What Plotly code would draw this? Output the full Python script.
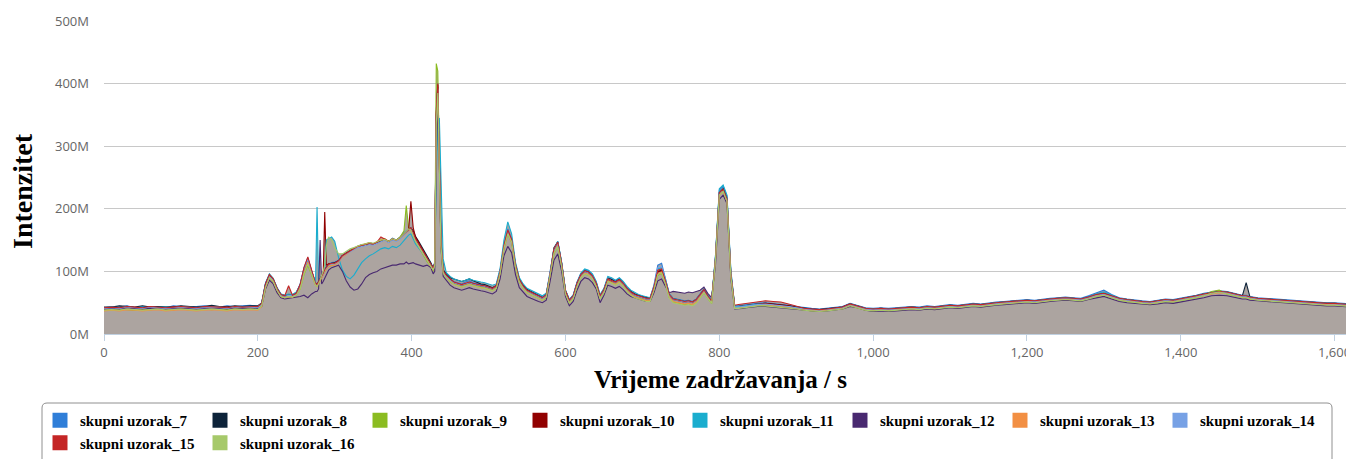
import plotly.graph_objects as go

# Retention time grid (s)
retention_time = [
    0, 10, 20, 30, 40, 50, 60, 70, 80, 90, 100, 110, 120, 130, 140, 150, 160, 170, 180, 190, 200,
    205, 210, 215, 220, 225, 230, 235, 240, 245, 250, 255, 260, 265, 270, 275,
    277, 279, 281, 283, 285, 287, 289,
    292, 296, 300, 305, 310, 315, 320, 325, 330, 335, 340, 345, 350, 355, 360, 365, 370, 375, 380, 385,
    390, 393, 396, 399, 402, 405, 410, 415, 420, 425, 428,
    430, 432, 434, 436, 438, 441, 445, 450,
    455, 460, 465, 470, 475, 480, 485, 490, 495, 500, 505, 510, 515, 520, 525, 530, 535, 540, 545, 550,
    555, 560, 565, 570, 575, 580, 585, 590, 595, 600, 605, 610, 615, 620, 625, 630, 635, 640, 645, 650,
    655, 660, 665, 670, 675, 680, 685, 690, 695, 700, 705, 710, 715, 720, 725, 730, 735, 740, 745, 750,
    755, 760, 765, 770, 775, 780, 785, 790, 795, 800, 805, 810, 815, 820, 825, 830, 835, 840, 845, 850,
    860, 870, 880, 890, 900, 910, 920, 930, 940, 950, 960, 970, 980, 990, 1000, 1010, 1020, 1030, 1040, 1050,
    1060, 1070, 1080, 1090, 1100, 1110, 1120, 1130, 1140, 1150, 1160, 1170, 1180, 1190, 1200, 1210, 1220,
    1230, 1240, 1250, 1260, 1270, 1280, 1290, 1300, 1310, 1320, 1330, 1340, 1350, 1360, 1370, 1380, 1390,
    1400, 1410, 1420, 1430, 1440, 1450, 1460, 1470, 1480, 1485, 1490, 1500, 1510, 1520, 1530, 1540, 1550,
    1560, 1570, 1580, 1590, 1600, 1610, 1620,
]

# Intensities (millions)
s7 = [
    42,44,43,45,42,44,44,43,42,45,44,43,44,45,44,43,45,44,45,46,44,
    50,82,95,88,74,64,62,63,63,66,80,106,122,100,82,
    80,84,88,94,98,104,108,
    112,114,115,118,126,130,134,137,140,143,142,146,144,147,150,152,148,153,150,155,162,165,168,170,162,152,142,132,122,114,106,
    115,360,400,300,155,102,95,88,
    84,82,80,83,85,82,80,79,78,76,74,78,102,143,168,152,112,88,78,71,
    68,64,62,59,64,98,136,148,114,70,55,62,83,97,103,101,95,83,62,72,
    90,88,85,89,83,74,68,64,62,60,58,58,78,110,113,88,64,57,56,54,
    53,54,52,56,64,72,62,54,124,230,236,220,100,45,45,46,47,48,49,49,
    50,49,48,46,44,42,41,40,41,42,44,49,46,42,41,42,41,42,43,44,
    43,45,44,46,47,46,48,49,48,50,51,52,53,54,55,54,56,57,58,59,
    58,57,61,66,70,63,58,56,54,53,52,54,56,55,57,59,62,65,67,69,
    68,65,62,62,60,58,57,56,55,54,53,52,52,51,50,50,49,48,
]
s8 = [
    43,43,45,44,43,45,43,44,44,43,45,44,43,44,46,44,43,45,44,45,45,
    49,80,94,87,73,63,61,63,62,65,78,104,120,99,81,
    79,83,87,93,97,103,107,
    111,113,114,117,125,129,133,136,139,141,143,144,143,146,149,151,148,151,150,154,160,163,167,169,165,156,146,136,124,114,105,
    113,340,395,295,152,102,96,90,
    88,86,84,86,88,85,82,80,79,77,74,77,100,140,163,150,110,88,78,71,
    68,64,62,58,62,96,138,147,113,69,54,61,81,95,101,99,93,81,60,71,
    89,87,83,88,81,73,68,64,62,60,58,57,74,100,102,85,63,56,55,53,
    52,53,51,55,63,71,61,53,121,226,232,217,96,44,44,45,46,47,48,48,
    49,48,47,45,43,41,40,39,40,41,43,48,45,41,40,41,40,41,42,43,
    42,44,43,45,46,45,47,48,47,49,50,51,52,53,54,53,55,56,57,58,
    57,56,59,63,65,61,57,55,53,52,51,53,55,54,56,58,61,64,66,68,
    67,64,61,82,59,57,56,55,54,53,52,51,51,50,49,49,48,47,
]
s9 = [
    38,39,40,39,38,40,39,40,38,39,40,39,38,40,39,40,39,40,41,40,40,
    45,74,90,83,69,60,58,60,59,62,72,95,110,95,78,
    76,80,84,90,95,100,104,
    108,110,111,116,124,128,133,136,140,142,143,145,143,147,150,152,147,152,150,155,165,205,170,168,158,148,137,126,116,108,100,
    110,432,420,280,140,97,90,83,
    80,78,76,78,80,78,76,75,74,72,70,74,96,136,160,146,106,83,73,66,
    63,59,57,54,58,90,128,140,108,65,50,57,77,90,96,94,88,77,57,67,
    85,82,79,83,77,69,63,59,57,55,53,53,70,94,97,80,58,51,50,48,
    47,48,46,50,58,66,57,49,118,222,228,212,92,41,41,42,43,44,44,45,
    46,45,44,42,40,38,37,36,37,38,40,45,42,38,37,38,37,38,39,40,
    39,41,40,42,43,42,44,45,44,46,47,48,49,50,51,50,52,53,54,55,
    54,53,56,60,62,58,54,52,50,49,48,50,52,51,53,55,58,62,68,70,
    64,61,58,58,56,54,53,52,51,50,49,48,48,47,46,46,45,44,
]
s10 = [
    41,42,42,43,41,42,43,42,41,43,42,42,41,43,43,42,43,42,43,44,43,
    48,79,94,87,72,62,60,63,62,65,77,101,118,99,80,
    78,82,86,92,96,195,110,
    112,113,113,117,125,129,133,136,139,141,142,144,143,146,149,151,147,151,149,153,159,162,166,212,170,155,144,134,122,113,104,
    112,350,398,290,148,100,93,87,
    82,80,78,80,82,80,78,77,76,74,72,76,99,139,163,149,109,86,76,69,
    66,62,60,57,62,94,133,145,112,68,53,60,80,94,100,98,92,80,60,70,
    87,85,82,86,80,72,66,62,60,58,56,56,74,99,101,84,62,55,54,52,
    51,52,50,54,62,70,60,52,119,224,229,214,94,43,44,45,46,47,48,48,
    49,48,47,45,42,40,39,38,39,40,42,47,44,40,39,40,39,40,41,42,
    41,43,42,44,45,44,46,47,46,48,49,50,51,52,53,52,54,55,56,57,
    56,55,58,62,64,60,56,54,52,51,50,52,54,53,55,57,60,63,65,67,
    66,63,60,60,58,56,55,54,53,52,51,50,50,49,48,48,47,46,
]
s11 = [
    42,43,42,44,42,43,42,43,43,42,44,43,42,43,44,43,42,44,43,44,44,
    49,80,96,89,74,64,62,64,63,67,78,103,119,100,82,
    203,85,88,94,98,104,150,
    152,155,148,122,102,92,88,94,104,114,120,125,128,132,136,138,136,140,138,142,150,155,158,160,152,144,136,128,118,110,103,
    108,250,330,345,250,120,98,92,
    88,86,84,86,88,86,84,83,82,80,78,80,105,150,179,160,115,90,80,73,
    70,66,64,61,65,97,136,148,115,70,55,62,82,97,104,102,96,84,63,73,
    92,90,86,90,84,76,70,66,63,61,59,58,76,104,106,88,64,56,55,53,
    52,53,51,55,63,72,62,54,125,232,238,222,102,44,44,45,46,47,48,48,
    47,46,45,44,42,40,39,38,39,40,42,48,45,41,40,41,40,41,42,43,
    42,44,43,45,46,45,47,48,47,49,50,51,52,53,54,53,55,56,57,58,
    57,56,59,64,67,62,57,55,53,52,51,53,55,54,56,58,61,64,66,68,
    67,64,61,61,59,57,56,55,54,53,52,51,51,50,49,49,48,47,
]
s12 = [
    40,41,40,42,41,40,41,42,40,41,42,41,40,41,42,41,40,42,41,42,41,
    44,72,86,80,66,58,56,57,57,58,60,62,58,64,68,
    68,72,150,80,84,90,96,
    102,106,108,110,100,85,75,70,72,80,90,95,98,100,104,106,108,110,110,112,112,115,112,113,114,112,110,108,110,106,96,
    100,280,370,280,140,92,85,78,
    74,72,70,72,74,72,70,69,68,66,64,68,88,125,140,130,95,74,66,60,
    57,54,52,50,54,84,118,128,100,60,45,52,70,84,90,88,82,72,50,62,
    78,76,73,76,71,64,60,58,56,54,52,52,66,85,88,76,66,68,67,66,
    65,67,66,68,70,75,65,58,110,215,222,208,88,40,40,41,42,43,43,44,
    44,43,42,41,40,38,37,36,37,38,40,44,42,38,36,37,36,37,38,39,
    38,40,39,41,42,41,43,44,43,45,46,47,48,49,50,49,51,52,53,54,
    53,52,55,58,60,56,52,50,49,48,47,48,50,49,51,53,56,58,61,62,
    61,58,56,56,54,53,52,51,50,49,48,47,47,46,45,45,44,43,
]
s13 = [
    37,38,37,39,38,37,38,39,37,38,39,38,37,38,39,38,37,39,38,39,38,
    44,74,90,84,70,60,58,60,59,62,74,98,115,96,78,
    76,80,84,90,94,100,104,
    108,110,110,115,123,127,132,135,139,142,144,146,144,148,151,152,148,151,149,153,158,162,165,166,158,148,138,128,118,110,102,
    110,340,390,285,145,98,90,84,
    79,77,75,77,79,77,75,74,73,71,69,73,97,137,161,147,107,83,73,66,
    63,59,57,54,59,92,130,142,109,65,50,57,77,91,97,95,89,77,57,67,
    85,82,79,83,77,69,63,59,57,55,53,53,71,96,99,81,59,52,51,49,
    48,49,47,51,59,67,58,50,118,222,227,212,92,41,42,43,44,45,45,46,
    47,46,45,43,41,39,38,37,38,39,41,46,43,39,38,39,38,39,40,41,
    40,42,41,43,44,43,45,46,45,47,48,49,50,51,52,51,53,54,55,56,
    55,54,57,61,63,59,55,53,51,50,49,51,53,52,54,56,59,62,64,66,
    65,62,59,59,57,55,54,53,52,51,50,49,49,48,47,47,46,45,
]
s14 = [
    41,42,41,43,42,41,43,42,41,42,43,42,41,42,43,42,41,43,42,43,42,
    47,77,92,86,72,62,60,62,61,64,78,104,120,99,80,
    78,82,86,92,96,102,106,
    110,112,112,116,124,128,132,135,138,140,141,143,142,145,148,150,146,150,148,152,158,162,166,168,160,150,140,130,120,112,104,
    112,345,392,292,150,100,92,86,
    82,80,78,80,82,80,78,77,76,74,72,76,100,140,165,150,110,86,76,69,
    66,62,60,57,62,95,133,145,112,68,53,60,80,94,100,98,92,80,60,70,
    88,85,82,86,80,72,66,62,60,58,56,56,76,106,108,86,62,55,54,52,
    51,52,50,54,62,70,60,52,120,225,230,215,95,43,43,44,45,46,47,47,
    48,47,46,44,42,40,39,38,39,40,42,47,44,40,39,40,39,40,41,42,
    41,43,42,44,45,44,46,47,46,48,49,50,51,52,53,52,54,55,56,57,
    56,55,58,62,64,60,56,54,52,51,50,52,54,53,55,57,60,63,65,67,
    66,63,60,60,58,56,55,54,53,52,51,50,50,49,48,48,47,46,
]
s15 = [
    42,43,42,44,43,42,44,43,42,43,44,43,42,44,44,43,42,44,43,44,44,
    49,80,95,88,73,63,61,77,62,65,79,106,123,101,81,
    79,83,87,93,97,103,107,
    111,113,113,117,125,129,133,137,140,142,143,145,144,147,155,152,148,152,150,154,160,164,168,170,162,152,142,132,122,113,105,
    113,355,400,295,150,101,94,88,
    83,81,79,81,83,81,79,78,77,75,73,77,100,141,166,151,111,87,77,70,
    67,63,61,58,63,96,136,147,113,69,54,61,81,95,101,99,93,81,61,71,
    88,86,83,87,81,73,67,63,61,59,57,57,75,102,104,85,63,56,55,53,
    52,53,51,55,63,71,61,53,121,226,231,216,96,46,47,48,49,50,51,52,
    53,52,51,48,44,41,40,39,40,41,43,48,45,41,40,41,40,41,42,43,
    42,44,43,45,46,45,47,48,47,49,50,51,52,53,54,53,55,56,57,58,
    57,56,59,63,65,61,57,55,53,52,51,53,55,54,56,58,61,64,66,68,
    67,64,61,61,59,57,56,55,54,53,52,51,51,50,49,49,48,47,
]
s16 = [
    38,39,38,40,39,38,39,40,38,39,40,39,38,39,40,39,38,40,39,40,39,
    45,75,90,84,70,60,58,60,59,62,72,96,112,96,78,
    76,80,86,94,100,110,140,
    155,150,138,128,128,132,136,138,141,143,144,146,145,148,150,151,148,152,150,154,160,164,168,166,158,148,138,128,118,110,102,
    110,335,385,280,142,97,90,84,
    79,77,75,77,79,77,75,74,73,71,69,73,97,137,160,147,107,83,73,66,
    63,59,57,54,59,91,129,140,108,64,49,56,76,90,96,94,88,76,56,66,
    84,81,78,82,76,68,62,58,56,54,52,52,70,95,98,80,57,50,49,47,
    46,47,45,49,57,66,57,49,118,222,228,212,92,41,41,42,43,44,44,45,
    45,44,43,42,40,38,37,36,37,38,40,45,42,38,37,38,37,38,39,40,
    39,41,40,42,43,42,44,45,44,46,47,48,49,50,51,50,52,53,54,55,
    54,53,56,60,62,58,54,52,50,49,48,50,52,51,53,55,58,61,65,67,
    64,61,58,58,56,54,53,52,51,50,49,48,48,47,46,46,45,44,
]

series_names = ["skupni uzorak_7", "skupni uzorak_8", "skupni uzorak_9", "skupni uzorak_10",
                "skupni uzorak_11", "skupni uzorak_12", "skupni uzorak_13", "skupni uzorak_14",
                "skupni uzorak_15", "skupni uzorak_16"]
series_values = [s7, s8, s9, s10, s11, s12, s13, s14, s15, s16]
series_colors = ["#2f7ed8", "#0d233a", "#8bbc21", "#910000", "#1aadce",
                 "#492970", "#f28f43", "#77a1e5", "#c42525", "#a6c96a"]

y_ticks = [0, 100, 200, 300, 400, 500]
y_tick_labels = ["0M", "100M", "200M", "300M", "400M", "500M"]
x_ticks = [0, 200, 400, 600, 800, 1000, 1200, 1400, 1600]
x_tick_labels = ["0", "200", "400", "600", "800", "1,000", "1,200", "1,400", "1,600"]

fill_color = "rgb(172,164,160)"

fig = go.Figure()

for name, vals in zip(series_names, series_values):
    n = min(len(vals), len(retention_time))
    fig.add_trace(go.Scatter(x=retention_time[:n], y=vals[:n], mode="lines",
                             line=dict(width=0, color=fill_color), fill="tozeroy",
                             fillcolor=fill_color, showlegend=False, hoverinfo="skip"))

for name, vals, col in zip(series_names, series_values, series_colors):
    n = min(len(vals), len(retention_time))
    fig.add_trace(go.Scatter(x=retention_time[:n], y=vals[:n], mode="lines",
                             line=dict(width=1.1, color=col), name=name, showlegend=False))

for name, col in zip(series_names, series_colors):
    fig.add_trace(go.Scatter(x=[None], y=[None], mode="markers", name=name,
                             marker=dict(symbol="square", size=15, color=col, line=dict(width=0)),
                             showlegend=True))

# The page body adds an 8 px offset; the figure is sized so that the
# screenshot positions (page pixels) line up with the reference.
OFF = 8
W, H = 1354 - OFF, 459 - OFF
ml, mr, mt, mb = 96, 4, 13, 125
pw, ph = W - ml - mr, H - mt - mb

def px_x(p):
    return (p - OFF - ml) / pw

def px_y(p):
    return (H - mb - (p - OFF)) / ph

# legend frame (rounded top corners, runs off the bottom)
x0, x1 = px_x(42), px_x(1332)
y0, y1 = px_y(403), px_y(480)
rx, ry = 5 / pw, 5 / ph
path = (f"M {x0},{y1} L {x0},{y0 - ry} Q {x0},{y0} {x0 + rx},{y0} "
        f"L {x1 - rx},{y0} Q {x1},{y0} {x1},{y0 - ry} L {x1},{y1}")

fig.update_layout(
    width=W, height=H,
    margin=dict(l=ml, r=mr, t=mt, b=mb, autoexpand=False),
    paper_bgcolor="white", plot_bgcolor="white",
    font=dict(family="Open Sans, sans-serif", color="#666666"),
    xaxis=dict(range=[0, 1620], tickvals=x_ticks, ticktext=x_tick_labels, showgrid=False,
               zeroline=False, showline=True, linecolor="#C0D0E0", linewidth=1,
               ticks="outside", ticklen=6, tickcolor="#C0D0E0", automargin=False,
               ticklabeloverflow="allow",
               tickfont=dict(size=13, color="#666666")),
    yaxis=dict(range=[0, 500], tickvals=y_ticks, ticktext=y_tick_labels, showgrid=True,
               gridcolor="#C8C8C8", gridwidth=1, zeroline=False, showline=False,
               ticks="", ticklabelstandoff=14, automargin=False,
               tickfont=dict(size=13, color="#666666")),
    showlegend=True,
    legend=dict(orientation="h", x=px_x(40), xanchor="left", y=px_y(404), yanchor="top",
                font=dict(family="Liberation Serif, Times New Roman, serif", size=15, color="black",
                          weight="bold"),
                entrywidth=115, entrywidthmode="pixels", itemwidth=30,
                bgcolor="rgba(0,0,0,0)", borderwidth=0, tracegroupgap=0),
    shapes=[dict(type="path", xref="paper", yref="paper", path=path,
                 line=dict(color="#909090", width=1), fillcolor="rgba(0,0,0,0)", layer="below")],
    annotations=[
        dict(text="<b>Intenzitet</b>", xref="paper", yref="paper", x=px_x(23), y=px_y(191),
             textangle=-90, showarrow=False, xanchor="center", yanchor="middle",
             font=dict(family="Liberation Serif, Times New Roman, serif", size=28, color="black")),
        dict(text="<b>Vrijeme zadržavanja / s</b>", xref="paper", yref="paper", x=px_x(720),
             y=px_y(379), showarrow=False, xanchor="center", yanchor="middle",
             font=dict(family="Liberation Serif, Times New Roman, serif", size=25, color="black")),
    ],
)

fig.write_html("out.html")
